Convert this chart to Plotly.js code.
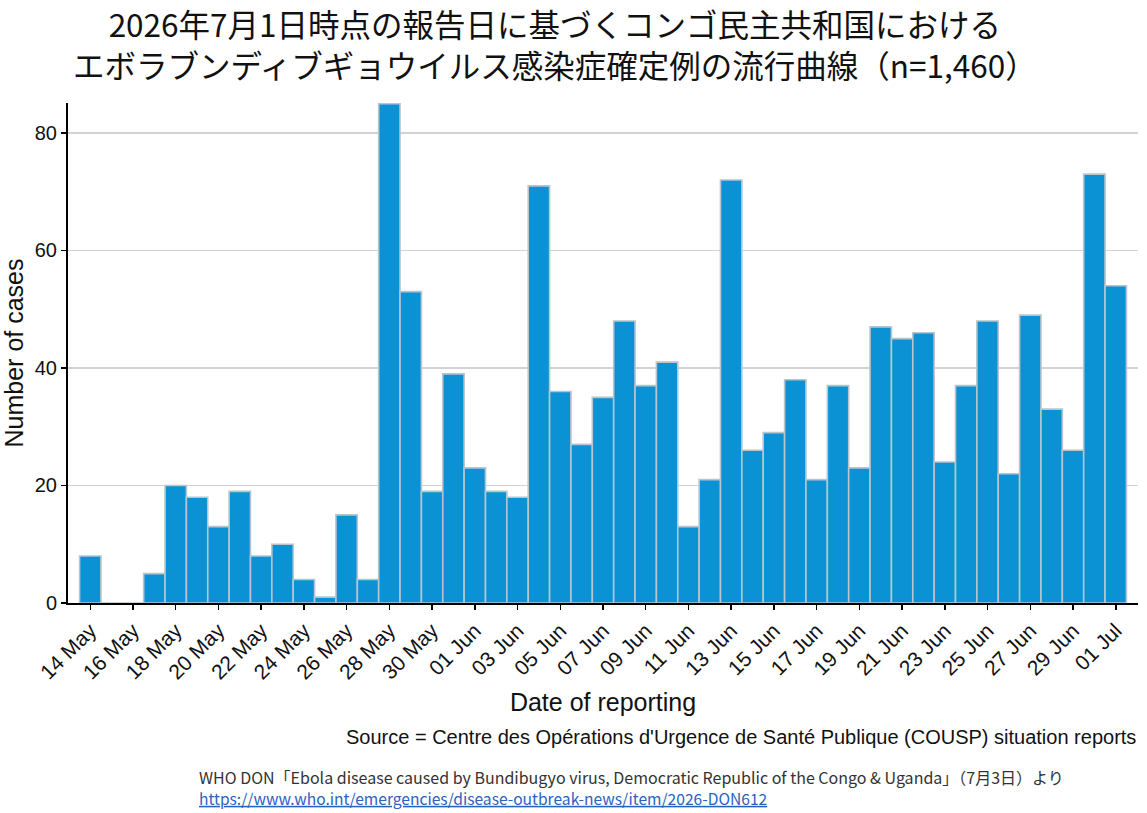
<!DOCTYPE html>
<html>
<head>
<meta charset="utf-8">
<script src="https://cdn.plot.ly/plotly-3.0.1.min.js"></script>
<style>
  html, body { margin: 0; padding: 0; background: #fff; }
  #chart { width: 1147px; height: 813px; }
</style>
</head>
<body>
<div id="chart"></div>
<script>
// Daily confirmed cases by date of reporting
const reportDates = [
  '2026-05-14','2026-05-15','2026-05-16','2026-05-17','2026-05-18','2026-05-19','2026-05-20',
  '2026-05-21','2026-05-22','2026-05-23','2026-05-24','2026-05-25','2026-05-26','2026-05-27',
  '2026-05-28','2026-05-29','2026-05-30','2026-05-31','2026-06-01','2026-06-02','2026-06-03',
  '2026-06-04','2026-06-05','2026-06-06','2026-06-07','2026-06-08','2026-06-09','2026-06-10',
  '2026-06-11','2026-06-12','2026-06-13','2026-06-14','2026-06-15','2026-06-16','2026-06-17',
  '2026-06-18','2026-06-19','2026-06-20','2026-06-21','2026-06-22','2026-06-23','2026-06-24',
  '2026-06-25','2026-06-26','2026-06-27','2026-06-28','2026-06-29','2026-06-30','2026-07-01'
];
const caseCounts = [
  8, 0, 0, 5, 20, 18, 13,
  19, 8, 10, 4, 1, 15, 4,
  85, 53, 19, 39, 23, 19, 18,
  71, 36, 27, 35, 48, 37, 41,
  13, 21, 72, 26, 29, 38, 21,
  37, 23, 47, 45, 46, 24, 37,
  48, 22, 49, 33, 26, 73, 54
];

const titleLines = [
  '2026年7月1日時点の報告日に基づくコンゴ民主共和国における',
  'エボラブンディブギョウイルス感染症確定例の流行曲線（n=1,460）'
];
const xTitle = 'Date of reporting';
const yTitle = 'Number of cases';
const sourceNote = "Source = Centre des Opérations d'Urgence de Santé Publique (COUSP) situation reports";
const citeLine = 'WHO DON「Ebola disease caused by Bundibugyo virus, Democratic Republic of the Congo & Uganda」（7月3日）より';
const citeUrl = 'https://www.who.int/emergencies/disease-outbreak-news/item/2026-DON612';

const DAY = 86400000;
const sans = 'Liberation Sans, Arial, sans-serif';
const jp = 'Noto Sans CJK JP, sans-serif';

// plot area: 68..1138 px across, 103..603 px down
const PLOT_TOP = 103, PLOT_H = 500, PLOT_L = 68, PLOT_W = 1070;
const py = (pix) => (PLOT_TOP + PLOT_H - pix) / PLOT_H;
const px = (pix) => (pix - PLOT_L) / PLOT_W;

const trace = {
  type: 'bar',
  x: reportDates,
  y: caseCounts,
  width: DAY,
  marker: { color: '#0a92d5', line: { color: '#b9c4cc', width: 1.6 } },
  hoverinfo: 'x+y'
};

const layout = {
  width: 1147,
  height: 813,
  paper_bgcolor: '#ffffff',
  plot_bgcolor: '#ffffff',
  margin: { l: 68, r: 9, t: 103, b: 210, autoexpand: false },
  showlegend: false,
  bargap: 0,
  xaxis: {
    type: 'date',
    range: ['2026-05-12 23:00', '2026-07-02 01:00'],
    tick0: '2026-05-14',
    dtick: 2 * DAY,
    tickformat: '%d %b',
    tickangle: -45,
    ticks: 'outside', ticklen: 5, tickwidth: 1.5, tickcolor: '#000',
    tickfont: { family: sans, size: 21, color: '#111' },
    showline: true, linecolor: '#000', linewidth: 2,
    showgrid: false, zeroline: false,
    automargin: false,
    title: { text: xTitle, font: { family: sans, size: 25, color: '#111' }, standoff: 11 }
  },
  yaxis: {
    range: [0, 85.1],
    tickvals: [0, 20, 40, 60, 80],
    ticks: 'outside', ticklen: 5, tickwidth: 1.5, tickcolor: '#000',
    tickfont: { family: sans, size: 20, color: '#111' },
    showline: true, linecolor: '#000', linewidth: 2,
    showgrid: true, gridcolor: '#d3d3d3', gridwidth: 1.5,
    zeroline: false,
    automargin: false,
    title: { text: yTitle, font: { family: sans, size: 25, color: '#111' }, standoff: 4 }
  },
  annotations: [
    {
      // two-line heading
      text: titleLines.join('<br>'),
      xref: 'paper', yref: 'paper', x: px(555), y: py(44),
      xanchor: 'center', yanchor: 'middle', align: 'center', showarrow: false,
      font: { family: jp, size: 31.5, color: '#111' }
    },
    {
      text: sourceNote,
      xref: 'paper', yref: 'paper', x: 1, y: py(737),
      xanchor: 'right', yanchor: 'middle', showarrow: false,
      font: { family: sans, size: 20, color: '#111' }
    },
    {
      // citation with its link underneath
      text: citeLine + '<br>' +
            '<span style="fill:#2a62c0;text-decoration:underline;font-size:15.6px">' + citeUrl + '</span>',
      xref: 'paper', yref: 'paper', x: px(197), y: py(787),
      xanchor: 'left', yanchor: 'middle', align: 'left', showarrow: false,
      font: { family: jp, size: 16, color: '#333' }
    }
  ]
};

Plotly.newPlot('chart', [trace], layout, { displayModeBar: false, staticPlot: true });
</script>
</body>
</html>
